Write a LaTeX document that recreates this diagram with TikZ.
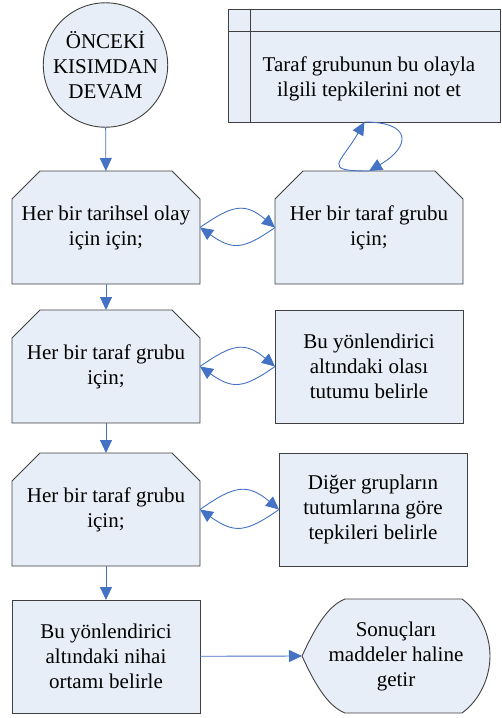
\documentclass[tikz,border=0pt]{standalone}
\usepackage{fontspec}
\setmainfont{Liberation Serif}
\usetikzlibrary{arrows.meta}
\usetikzlibrary{backgrounds}

\begin{document}
\begin{tikzpicture}[x=1pt,y=1pt,yscale=-1,xscale=1,
  yazi/.style={inner sep=0pt,outer sep=0pt,align=center,font=\fontsize{21}{25}\selectfont},
  cizgi/.style={draw={rgb, 255:red, 64; green, 64; blue, 64},line width=0.9pt},
  dolgu/.style={cizgi,fill={rgb, 255:red, 232; green, 238; blue, 247}},
  kutu/.style={yazi,dolgu,minimum width=188pt,minimum height=113pt},
  kose/.style={yazi,minimum width=188pt,minimum height=113pt},
  ok/.style={draw={rgb, 255:red, 68; green, 114; blue, 196},line width=0.9pt,
    -{Triangle[length=13pt,width=12pt]}}]
\path[use as bounding box] (0,0) rectangle (502,718);

%Shape: Circle
\node (onceki) [kutu,circle,minimum size=124pt] at (105.5,65) {ÖNCEKİ\\KISIMDAN\\DEVAM};
%Shape: Internal storage
\node (notbox) [kutu,minimum width=272pt] at (364.5,65.5) {};
\draw [cizgi] ([xshift=22pt]notbox.north west) -- ([xshift=22pt]notbox.south west);
\draw [cizgi] ([yshift=22pt]notbox.north west) -- ([yshift=22pt]notbox.north east);
\node (notmetin) [yazi] at (369,79) {Taraf grubunun bu olayla\\ilgili tepkilerini not et};

%Loop limit boxes
\node (olay) [kose] at (106,227.5) {Her bir tarihsel olay\\için için;};
\node (grup1) [kose] at (369,227.5) {Her bir taraf grubu\\için;};
\node (grup2) [kose] at (106,366.5) {Her bir taraf grubu\\için;};
\node (grup3) [kose] at (106,509.5) {Her bir taraf grubu\\için;};
%Process boxes
\node (tutum) [kutu] at (369,366.5) {Bu yönlendirici\\altındaki olası\\tutumu belirle};
\node (tepki) [kutu] at (373,509.5) {Diğer grupların\\tutumlarına göre\\tepkileri belirle};
\node (ortam) [kutu] at (106,656.5) {Bu yönlendirici\\altındaki nihai\\ortamı belirle};

%Shape: Display
\node (sonuc) [yazi,minimum width=188pt,minimum height=114pt] at (396,656) {Sonuçları\\maddeler haline\\getir};

\begin{scope}[on background layer]
\foreach \k in {olay,grup1,grup2,grup3}
  \draw [dolgu] ([yshift=28pt]\k.north west) -- ([xshift=28pt]\k.north west)
    -- ([xshift=-28pt]\k.north east) -- ([yshift=28pt]\k.north east)
    -- (\k.south east) -- (\k.south west) -- cycle;
\draw [dolgu]
  (sonuc.west) .. controls +(12,-26) and +(-18,7) .. ([xshift=43pt]sonuc.north west)
  -- ([xshift=-28pt]sonuc.north east) .. controls +(18,13) and +(0,-21) .. (sonuc.east)
  .. controls +(0,21) and +(18,-13) .. ([xshift=-28pt]sonuc.south east)
  -- ([xshift=43pt]sonuc.south west) .. controls +(-18,-7) and +(12,26) .. (sonuc.west) -- cycle;
\end{scope}

%Straight Lines
\draw [ok] (onceki) -- (olay);
\draw [ok] (olay) -- (grup2);
\draw [ok] (grup2) -- (grup3);
\draw [ok] (grup3) -- (ortam);
\draw [ok] (ortam) -- (sonuc.west);

%Curve Lines
\draw [ok] (olay.east) to[out=-35,in=-140,looseness=1.35] (grup1.west);
\draw [ok] (grup1.west) to[out=145,in=35,looseness=1.35] (olay.east);
\draw [ok] (grup2.east) to[out=-35,in=-140,looseness=1.35] (tutum.west);
\draw [ok] (tutum.west) to[out=145,in=35,looseness=1.35] (grup2.east);
\draw [ok] (grup3.east) to[out=-35,in=-140,looseness=1.35] (tepki.west);
\draw [ok] (tepki.west) to[out=145,in=35,looseness=1.35] (grup3.east);
\draw [ok] (grup1.north) to[out=180,in=120,looseness=2.5] (notbox.south);
\draw [ok] (notbox.south) to[out=0,in=-30,looseness=2.5] (grup1.north);

\end{tikzpicture}
\end{document}
